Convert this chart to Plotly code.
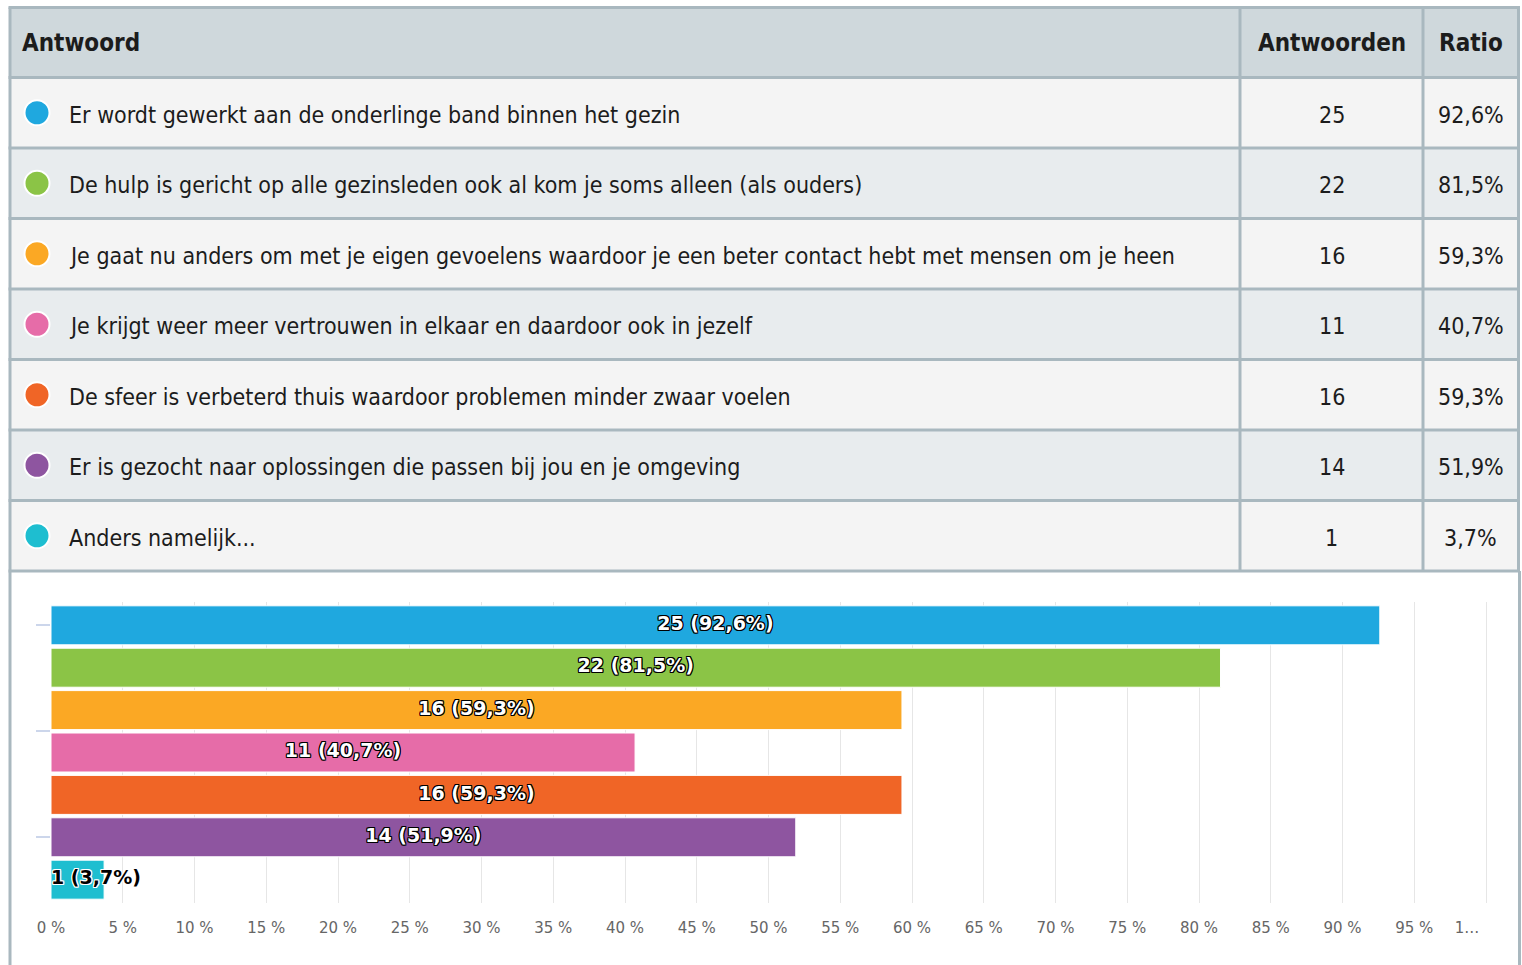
import plotly.graph_objects as go

# ---------------- data ----------------
answers = [
    "Er wordt gewerkt aan de onderlinge band binnen het gezin",
    "De hulp is gericht op alle gezinsleden ook al kom je soms alleen (als ouders)",
    "Je gaat nu anders om met je eigen gevoelens waardoor je een beter contact hebt met mensen om je heen",
    "Je krijgt weer meer vertrouwen in elkaar en daardoor ook in jezelf",
    "De sfeer is verbeterd thuis waardoor problemen minder zwaar voelen",
    "Er is gezocht naar oplossingen die passen bij jou en je omgeving",
    "Anders namelijk...",
]
counts = [25, 22, 16, 11, 16, 14, 1]
ratios = [92.6, 81.5, 59.3, 40.7, 59.3, 51.9, 3.7]
colors = ["#1FA8DF", "#8BC446", "#FBA824", "#E66CA8", "#F06526", "#8E55A0", "#1EBED0"]
header = ["Antwoord", "Antwoorden", "Ratio"]
tick_vals = list(range(0, 101, 5))
tick_text = [f"{v} %" for v in tick_vals[:-1]] + ["1…" + "\u00a0" * 8]

# ---------------- geometry (pixels) ----------------
W, H = 1522, 965
def px(x): return x / W
def py(y): return 1 - y / H

T_LEFT, T_RIGHT = 10, 1518.5
COL1, COL2 = 1240, 1423
T_TOP, HEAD_H, ROW_H = 7.5, 70, 70.5
BORDER = "#A9B8BF"
HEAD_BG = "#CFD8DC"
ROW_BG = ["#F4F4F4", "#E8ECEE"]
TXT = "#1c1c1c"
TFONT = "DejaVu Sans Condensed, Liberation Sans Narrow, sans-serif"
ROW_SIZE = 23
HEAD_SIZE = 24

X0_PX, X100_PX = 51, 1486
X_MAX = 100.1
X_END_PX = X0_PX + (X100_PX - X0_PX) * X_MAX / 100

def fmt_pct(r):
    return f"{r:.1f}".replace(".", ",") + "%"

fig = go.Figure()

# ---------------- bars ----------------
ypos = list(range(len(ratios)))
fig.add_trace(go.Bar(
    x=ratios, y=ypos, orientation="h",
    marker=dict(color=colors, line=dict(color="white", width=1)),
    width=0.92, hoverinfo="skip", showlegend=False,
))

labels = [f"{c} ({fmt_pct(r)})" for c, r in zip(counts, ratios)]
bar_px = (X100_PX - X0_PX) / 100.0
fits = [r * bar_px > len(l) * 12 for r, l in zip(ratios, labels)]

in_x = [r / 2 for r, f in zip(ratios, fits) if f]
in_y = [y for y, f in zip(ypos, fits) if f]
in_t = [l for l, f in zip(labels, fits) if f]
out_x = [0 for f in fits if not f]
out_y = [y for y, f in zip(ypos, fits) if not f]
out_t = [l for l, f in zip(labels, fits) if not f]

outline_black = "1px 1px 0 #000, -1px -1px 0 #000, 1px -1px 0 #000, -1px 1px 0 #000, 0 1px 0 #000, 0 -1px 0 #000, 1px 0 0 #000, -1px 0 0 #000"
outline_white = outline_black.replace("#000", "#fff")

fig.add_trace(go.Scatter(
    x=in_x, y=in_y, text=in_t, mode="text", textposition="middle center",
    textfont=dict(family="DejaVu Sans", size=19, color="white", weight="bold", shadow=outline_black),
    hoverinfo="skip", showlegend=False, cliponaxis=False,
))
fig.add_trace(go.Scatter(
    x=out_x, y=out_y, text=out_t, mode="text", textposition="middle right",
    textfont=dict(family="DejaVu Sans", size=19, color="black", weight="bold", shadow=outline_white),
    hoverinfo="skip", showlegend=False, cliponaxis=False,
))

# ---------------- table shapes ----------------
shapes = []
annotations = []
n = len(answers)
row_tops = [T_TOP + HEAD_H + i * ROW_H for i in range(n)]
t_bottom = T_TOP + HEAD_H + n * ROW_H

shapes.append(dict(type="rect", xref="paper", yref="paper", layer="below",
                   x0=px(T_LEFT), x1=px(T_RIGHT), y0=py(T_TOP), y1=py(T_TOP + HEAD_H),
                   fillcolor=HEAD_BG, line=dict(width=0)))
for i, top in enumerate(row_tops):
    shapes.append(dict(type="rect", xref="paper", yref="paper", layer="below",
                       x0=px(T_LEFT), x1=px(T_RIGHT), y0=py(top), y1=py(top + ROW_H),
                       fillcolor=ROW_BG[i % 2], line=dict(width=0)))

for yl in [T_TOP, T_TOP + HEAD_H] + [t + ROW_H for t in row_tops]:
    shapes.append(dict(type="line", xref="paper", yref="paper",
                       x0=px(T_LEFT - 1.5), x1=px(T_RIGHT + 1.5), y0=py(yl), y1=py(yl),
                       line=dict(color=BORDER, width=3)))
for xl in [T_LEFT, COL1, COL2, T_RIGHT]:
    shapes.append(dict(type="line", xref="paper", yref="paper",
                       x0=px(xl), x1=px(xl), y0=py(T_TOP), y1=py(t_bottom),
                       line=dict(color=BORDER, width=3)))
for xl in [T_LEFT, T_RIGHT + 1]:
    shapes.append(dict(type="line", xref="paper", yref="paper",
                       x0=px(xl), x1=px(xl), y0=py(t_bottom), y1=py(H + 5),
                       line=dict(color=BORDER, width=3)))

# header text
hy = T_TOP + HEAD_H / 2 + 1
annotations.append(dict(xref="paper", yref="paper", x=px(20), y=py(hy), xanchor="left", yanchor="middle",
                        text=header[0], showarrow=False,
                        font=dict(family=TFONT, size=HEAD_SIZE, color=TXT, weight="bold")))
annotations.append(dict(xref="paper", yref="paper", x=px((COL1 + COL2) / 2), y=py(hy), xanchor="center",
                        yanchor="middle", text=header[1], showarrow=False,
                        font=dict(family=TFONT, size=HEAD_SIZE, color=TXT, weight="bold")))
annotations.append(dict(xref="paper", yref="paper", x=px((COL2 + T_RIGHT) / 2), y=py(hy), xanchor="center",
                        yanchor="middle", text=header[2], showarrow=False,
                        font=dict(family=TFONT, size=HEAD_SIZE, color=TXT, weight="bold")))

for i, top in enumerate(row_tops):
    cy = top + ROW_H / 2
    r = 12.5
    shapes.append(dict(type="circle", xref="paper", yref="paper",
                       x0=px(37 - r), x1=px(37 + r), y0=py(cy - r), y1=py(cy + r),
                       fillcolor=colors[i], line=dict(color="white", width=2)))
    annotations.append(dict(xref="paper", yref="paper", x=px(67), y=py(cy + 2), xanchor="left",
                            yanchor="middle", text=answers[i], showarrow=False,
                            font=dict(family=TFONT, size=ROW_SIZE, color=TXT)))
    annotations.append(dict(xref="paper", yref="paper", x=px((COL1 + COL2) / 2), y=py(cy + 2),
                            xanchor="center", yanchor="middle", text=str(counts[i]), showarrow=False,
                            font=dict(family=TFONT, size=ROW_SIZE, color=TXT)))
    annotations.append(dict(xref="paper", yref="paper", x=px((COL2 + T_RIGHT) / 2), y=py(cy + 2),
                            xanchor="center", yanchor="middle", text=fmt_pct(ratios[i]), showarrow=False,
                            font=dict(family=TFONT, size=ROW_SIZE, color=TXT)))

fig.update_layout(
    width=W, height=H,
    margin=dict(l=0, r=0, t=0, b=0, pad=0, autoexpand=False),
    paper_bgcolor="white", plot_bgcolor="white",
    shapes=shapes, annotations=annotations,
    showlegend=False,
    xaxis=dict(domain=[px(X0_PX), px(X_END_PX)], range=[0, X_MAX], tickvals=tick_vals, ticktext=tick_text,
               showgrid=True, gridcolor="#E6E6E6", gridwidth=1, zeroline=False, ticks="",
               showline=False, ticklabelstandoff=14, automargin=False,
               tickfont=dict(family="DejaVu Sans", size=15, color="#666666"), fixedrange=True),
    yaxis=dict(domain=[py(903), py(602)], range=[6.55, -0.55], tickvals=[0, 2.5, 5],
               showticklabels=False, ticks="outside", ticklen=14, tickcolor="#CCD6EB", tickwidth=2,
               showgrid=False, zeroline=False, showline=False, fixedrange=True, automargin=False),
)

fig.write_html("out.html")
